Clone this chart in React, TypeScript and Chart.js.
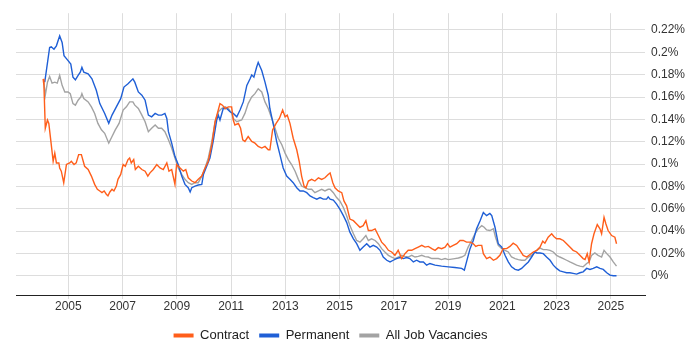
import React, { useEffect, useRef } from "react";
import { Chart, registerables } from "chart.js";

Chart.register(...registerables);

const contractYears = [2004.07,2004.10,2004.15,2004.23,2004.28,2004.35,2004.44,2004.50,2004.56,2004.65,2004.68,2004.74,2004.83,2004.93,2005.05,2005.11,2005.21,2005.29,2005.38,2005.48,2005.60,2005.73,2005.85,2005.97,2006.07,2006.16,2006.24,2006.32,2006.40,2006.46,2006.53,2006.61,2006.68,2006.77,2006.83,2006.93,2007.02,2007.10,2007.20,2007.26,2007.32,2007.41,2007.47,2007.58,2007.71,2007.83,2007.93,2008.01,2008.13,2008.26,2008.38,2008.50,2008.63,2008.71,2008.81,2008.93,2008.99,2009.12,2009.24,2009.33,2009.42,2009.55,2009.67,2009.79,2009.92,2010.04,2010.16,2010.29,2010.41,2010.51,2010.59,2010.68,2010.78,2010.90,2011.02,2011.08,2011.14,2011.27,2011.35,2011.43,2011.51,2011.63,2011.76,2011.88,2012.00,2012.13,2012.25,2012.37,2012.43,2012.53,2012.66,2012.78,2012.90,2012.99,2013.07,2013.17,2013.29,2013.42,2013.51,2013.60,2013.69,2013.76,2013.85,2013.97,2014.09,2014.22,2014.34,2014.46,2014.58,2014.65,2014.75,2014.83,2014.95,2015.08,2015.16,2015.26,2015.38,2015.51,2015.63,2015.75,2015.87,2015.97,2016.06,2016.18,2016.31,2016.43,2016.55,2016.67,2016.80,2016.92,2017.04,2017.16,2017.29,2017.41,2017.53,2017.66,2017.78,2017.90,2018.03,2018.15,2018.27,2018.40,2018.52,2018.64,2018.76,2018.89,2018.98,2019.07,2019.19,2019.32,2019.44,2019.56,2019.68,2019.81,2019.93,2020.02,2020.11,2020.24,2020.30,2020.42,2020.54,2020.67,2020.79,2020.91,2021.03,2021.16,2021.28,2021.40,2021.53,2021.65,2021.77,2021.90,2022.02,2022.14,2022.27,2022.39,2022.49,2022.57,2022.69,2022.82,2022.90,2023.00,2023.12,2023.25,2023.37,2023.49,2023.61,2023.74,2023.86,2023.98,2024.05,2024.13,2024.20,2024.29,2024.38,2024.50,2024.60,2024.66,2024.75,2024.82,2024.90,2025.03,2025.15,2025.21];
const contractValues = [0.1763,0.1704,0.1320,0.1394,0.1364,0.1217,0.1025,0.1098,0.1010,0.1010,0.0965,0.0936,0.0833,0.0996,0.1010,0.1025,0.0996,0.1010,0.1084,0.1084,0.0980,0.0951,0.0892,0.0818,0.0774,0.0759,0.0744,0.0759,0.0730,0.0715,0.0750,0.0774,0.0759,0.0803,0.0863,0.0907,0.0996,0.0980,0.1040,0.1054,0.1010,0.1040,0.0951,0.0980,0.0951,0.0936,0.0892,0.0921,0.0951,0.0996,0.0965,0.0951,0.1010,0.0936,0.0951,0.0818,0.0996,0.0965,0.0936,0.0951,0.0877,0.0848,0.0833,0.0863,0.0892,0.0965,0.1025,0.1173,0.1379,0.1468,0.1541,0.1527,0.1497,0.1512,0.1512,0.1394,0.1350,0.1364,0.1320,0.1217,0.1202,0.1246,0.1202,0.1187,0.1158,0.1143,0.1158,0.1128,0.1128,0.1306,0.1364,0.1408,0.1483,0.1423,0.1438,0.1364,0.1231,0.1128,0.1025,0.0892,0.0803,0.0788,0.0848,0.0863,0.0848,0.0877,0.0863,0.0877,0.0907,0.0921,0.0833,0.0788,0.0759,0.0744,0.0670,0.0626,0.0508,0.0493,0.0464,0.0434,0.0449,0.0493,0.0405,0.0405,0.0420,0.0360,0.0301,0.0272,0.0228,0.0213,0.0183,0.0228,0.0154,0.0198,0.0228,0.0228,0.0243,0.0257,0.0272,0.0257,0.0263,0.0243,0.0228,0.0252,0.0243,0.0257,0.0287,0.0257,0.0272,0.0287,0.0316,0.0316,0.0301,0.0301,0.0287,0.0263,0.0272,0.0272,0.0198,0.0154,0.0168,0.0139,0.0154,0.0183,0.0243,0.0243,0.0263,0.0292,0.0272,0.0228,0.0183,0.0168,0.0190,0.0213,0.0228,0.0257,0.0310,0.0292,0.0345,0.0376,0.0352,0.0331,0.0331,0.0316,0.0287,0.0257,0.0228,0.0213,0.0183,0.0154,0.0145,0.0198,0.0124,0.0287,0.0376,0.0458,0.0420,0.0376,0.0523,0.0464,0.0405,0.0360,0.0345,0.0287];

const permanentYears = [2004.13,2004.31,2004.37,2004.47,2004.56,2004.68,2004.77,2004.84,2004.99,2005.09,2005.17,2005.26,2005.36,2005.44,2005.50,2005.57,2005.73,2005.87,2006.03,2006.16,2006.34,2006.49,2006.61,2006.77,2006.93,2007.05,2007.20,2007.38,2007.45,2007.58,2007.71,2007.83,2007.95,2008.07,2008.20,2008.32,2008.44,2008.56,2008.63,2008.69,2008.81,2008.93,2009.05,2009.18,2009.30,2009.42,2009.49,2009.55,2009.67,2009.79,2009.92,2009.98,2010.10,2010.22,2010.34,2010.47,2010.53,2010.59,2010.71,2010.84,2010.96,2011.08,2011.21,2011.33,2011.45,2011.58,2011.70,2011.76,2011.84,2011.94,2012.00,2012.13,2012.25,2012.37,2012.43,2012.56,2012.68,2012.80,2012.92,2013.05,2013.17,2013.29,2013.42,2013.54,2013.66,2013.79,2013.91,2014.03,2014.16,2014.28,2014.40,2014.52,2014.58,2014.65,2014.77,2014.89,2015.01,2015.14,2015.26,2015.38,2015.51,2015.63,2015.75,2015.87,2016.00,2016.12,2016.24,2016.37,2016.49,2016.61,2016.74,2016.86,2016.98,2017.10,2017.23,2017.35,2017.47,2017.59,2017.72,2017.84,2017.96,2018.09,2018.21,2018.33,2018.52,2018.76,2019.01,2019.25,2019.50,2019.60,2019.68,2019.81,2019.93,2020.05,2020.18,2020.30,2020.42,2020.54,2020.61,2020.73,2020.85,2020.98,2021.10,2021.22,2021.34,2021.47,2021.59,2021.71,2021.83,2021.96,2022.08,2022.20,2022.27,2022.39,2022.51,2022.63,2022.76,2022.88,2023.00,2023.12,2023.25,2023.37,2023.49,2023.61,2023.74,2023.86,2023.98,2024.11,2024.23,2024.35,2024.48,2024.60,2024.72,2024.85,2024.97,2025.09,2025.21];
const permanentValues = [0.1733,0.2043,0.2050,0.2028,0.2058,0.2147,0.2088,0.1970,0.1926,0.1895,0.1778,0.1754,0.1793,0.1822,0.1866,0.1822,0.1807,0.1763,0.1660,0.1541,0.1453,0.1364,0.1438,0.1512,0.1585,0.1689,0.1718,0.1763,0.1733,0.1645,0.1616,0.1571,0.1438,0.1423,0.1453,0.1438,0.1438,0.1453,0.1408,0.1290,0.1187,0.1069,0.0996,0.0892,0.0818,0.0788,0.0750,0.0788,0.0803,0.0812,0.0818,0.0907,0.0980,0.1054,0.1202,0.1394,0.1438,0.1394,0.1497,0.1497,0.1468,0.1453,0.1423,0.1483,0.1556,0.1704,0.1763,0.1798,0.1778,0.1866,0.1910,0.1837,0.1733,0.1616,0.1497,0.1350,0.1202,0.1084,0.0965,0.0892,0.0863,0.0833,0.0788,0.0759,0.0759,0.0744,0.0715,0.0700,0.0686,0.0700,0.0686,0.0686,0.0706,0.0686,0.0677,0.0641,0.0597,0.0538,0.0478,0.0390,0.0331,0.0287,0.0228,0.0257,0.0287,0.0257,0.0272,0.0257,0.0228,0.0168,0.0139,0.0124,0.0139,0.0154,0.0163,0.0154,0.0163,0.0154,0.0124,0.0139,0.0124,0.0124,0.0095,0.0110,0.0095,0.0086,0.0080,0.0074,0.0066,0.0050,0.0124,0.0243,0.0316,0.0420,0.0493,0.0567,0.0538,0.0558,0.0538,0.0434,0.0287,0.0257,0.0183,0.0124,0.0080,0.0057,0.0050,0.0066,0.0095,0.0124,0.0168,0.0213,0.0204,0.0204,0.0198,0.0168,0.0139,0.0095,0.0066,0.0044,0.0035,0.0027,0.0027,0.0021,0.0015,0.0027,0.0035,0.0066,0.0057,0.0066,0.0080,0.0066,0.0057,0.0027,0.0006,0.0000,0.0000];

const allYears = [2004.09,2004.15,2004.23,2004.31,2004.40,2004.50,2004.59,2004.68,2004.77,2004.87,2004.99,2005.07,2005.17,2005.26,2005.36,2005.46,2005.50,2005.57,2005.73,2005.85,2005.97,2006.09,2006.22,2006.34,2006.49,2006.61,2006.73,2006.87,2007.02,2007.14,2007.26,2007.38,2007.45,2007.58,2007.71,2007.83,2007.95,2008.07,2008.20,2008.32,2008.44,2008.56,2008.69,2008.81,2008.93,2009.05,2009.18,2009.30,2009.42,2009.55,2009.67,2009.79,2009.92,2010.04,2010.16,2010.29,2010.41,2010.53,2010.65,2010.78,2010.90,2011.02,2011.08,2011.21,2011.39,2011.51,2011.63,2011.76,2011.88,2012.00,2012.13,2012.25,2012.37,2012.50,2012.62,2012.74,2012.87,2012.99,2013.11,2013.23,2013.36,2013.48,2013.60,2013.72,2013.85,2013.97,2014.09,2014.22,2014.34,2014.46,2014.58,2014.65,2014.77,2014.89,2015.01,2015.14,2015.26,2015.38,2015.51,2015.63,2015.75,2015.87,2015.97,2016.06,2016.18,2016.31,2016.43,2016.55,2016.67,2016.80,2016.92,2017.04,2017.16,2017.29,2017.41,2017.53,2017.66,2017.78,2017.90,2018.03,2018.15,2018.27,2018.40,2018.64,2018.76,2018.89,2019.01,2019.25,2019.38,2019.50,2019.62,2019.74,2019.87,2019.99,2020.11,2020.24,2020.33,2020.42,2020.54,2020.67,2020.75,2020.85,2020.98,2021.10,2021.22,2021.34,2021.47,2021.59,2021.71,2021.83,2021.96,2022.08,2022.20,2022.27,2022.39,2022.51,2022.63,2022.76,2022.88,2023.00,2023.12,2023.25,2023.37,2023.49,2023.61,2023.74,2023.86,2023.98,2024.11,2024.20,2024.29,2024.41,2024.53,2024.66,2024.75,2024.85,2024.97,2025.09,2025.21];
const allValues = [0.1748,0.1616,0.1733,0.1784,0.1724,0.1733,0.1724,0.1793,0.1704,0.1645,0.1645,0.1630,0.1541,0.1527,0.1571,0.1600,0.1630,0.1585,0.1556,0.1512,0.1453,0.1364,0.1306,0.1275,0.1187,0.1246,0.1306,0.1364,0.1483,0.1512,0.1556,0.1556,0.1527,0.1497,0.1438,0.1379,0.1290,0.1320,0.1350,0.1320,0.1320,0.1290,0.1217,0.1143,0.1054,0.0965,0.0907,0.0863,0.0833,0.0818,0.0833,0.0833,0.0892,0.0965,0.1054,0.1202,0.1379,0.1468,0.1497,0.1512,0.1497,0.1453,0.1408,0.1379,0.1394,0.1453,0.1541,0.1600,0.1630,0.1674,0.1645,0.1556,0.1497,0.1408,0.1320,0.1231,0.1173,0.1098,0.1040,0.0996,0.0936,0.0863,0.0803,0.0788,0.0774,0.0774,0.0744,0.0759,0.0774,0.0759,0.0774,0.0774,0.0744,0.0700,0.0670,0.0611,0.0538,0.0449,0.0376,0.0316,0.0301,0.0331,0.0360,0.0316,0.0331,0.0316,0.0287,0.0243,0.0213,0.0183,0.0168,0.0154,0.0168,0.0183,0.0174,0.0168,0.0183,0.0168,0.0174,0.0183,0.0171,0.0168,0.0154,0.0154,0.0145,0.0154,0.0145,0.0154,0.0159,0.0168,0.0183,0.0257,0.0316,0.0376,0.0420,0.0449,0.0434,0.0411,0.0405,0.0420,0.0345,0.0272,0.0243,0.0228,0.0213,0.0168,0.0154,0.0145,0.0139,0.0139,0.0168,0.0183,0.0213,0.0228,0.0248,0.0234,0.0234,0.0228,0.0213,0.0183,0.0168,0.0154,0.0139,0.0124,0.0110,0.0095,0.0086,0.0080,0.0110,0.0124,0.0183,0.0204,0.0183,0.0168,0.0228,0.0198,0.0168,0.0124,0.0086];

const xTicks = [2005, 2007, 2009, 2011, 2013, 2015, 2017, 2019, 2021, 2023, 2025];
const yTicks = [0, 0.02, 0.04, 0.06, 0.08, 0.1, 0.12, 0.14, 0.16, 0.18, 0.2, 0.22];

const seriesNames = ["Contract", "Permanent", "All Job Vacancies"];
const seriesColors = ["#ff5e1a", "#1f5fd6", "#a3a3a3"];

const toPoints = (xs: number[], ys: number[]) => xs.map((x, i) => ({ x, y: ys[i] }));

export default function App() {
  const canvasRef = useRef<HTMLCanvasElement | null>(null);

  useEffect(() => {
    const canvas = canvasRef.current;
    if (!canvas) return;
    const font = 'Arial, "Liberation Sans", sans-serif';
    const seriesData = [
      toPoints(contractYears, contractValues),
      toPoints(permanentYears, permanentValues),
      toPoints(allYears, allValues),
    ];
    const chart = new Chart(canvas, {
      type: "line",
      data: {
        datasets: seriesNames.map((name, i) => ({
          label: name,
          data: seriesData[i],
          borderColor: seriesColors[i],
          backgroundColor: seriesColors[i],
          borderWidth: 1.4,
          pointRadius: 0,
          tension: 0,
        })),
      },
      options: {
        animation: false,
        responsive: false,
        maintainAspectRatio: false,
        layout: { padding: { left: 16, top: 10, right: 0, bottom: 0 } },
        plugins: {
          tooltip: { enabled: false },
          legend: {
            position: "bottom",
            fullSize: false,
            labels: {
              boxWidth: 20,
              boxHeight: 4,
              padding: 10,
              color: "#222",
              font: { family: font, size: 13 },
              generateLabels: (ch: any) =>
                ch.data.datasets.map((ds: any, i: number) => ({
                  text: ds.label,
                  fillStyle: seriesColors[i],
                  strokeStyle: seriesColors[i],
                  lineWidth: 0,
                  hidden: false,
                  datasetIndex: i,
                  fontColor: "#222",
                })),
            },
          },
        },
        scales: {
          x: {
            type: "linear",
            min: 2003.07,
            max: 2026.26,
            afterBuildTicks: (scale: any) => {
              scale.ticks = xTicks.map((value) => ({ value }));
            },
            afterFit: (scale: any) => {
              scale.height = 24;
            },
            grid: { color: "#dddddd", drawTicks: true, tickLength: 4 },
            border: { display: true, color: "#222", width: 1 },
            ticks: {
              color: "#333",
              font: { family: font, size: 12 },
              padding: 0,
              maxRotation: 0,
              autoSkip: false,
              callback: (v: any) => String(v),
            },
          },
          y: {
            type: "linear",
            position: "right",
            min: -0.0172,
            max: 0.235,
            afterBuildTicks: (scale: any) => {
              scale.ticks = yTicks.map((value) => ({ value }));
            },
            afterFit: (scale: any) => {
              scale.width = 55;
            },
            grid: { color: "#dddddd", drawTicks: false },
            border: { display: false },
            ticks: {
              color: "#333",
              font: { family: font, size: 12 },
              padding: 6,
              callback: (v: any) => `${Number(Number(v).toFixed(2))}%`,
            },
          },
        },
      },
    });
    return () => chart.destroy();
  }, []);

  return (
    <div style={{ position: "fixed", left: 0, top: 0, width: 700, height: 350, overflow: "hidden", background: "#fff" }}>
      <canvas ref={canvasRef} width={700} height={352} style={{ display: "block", width: 700, height: 352 }} />
    </div>
  );
}
